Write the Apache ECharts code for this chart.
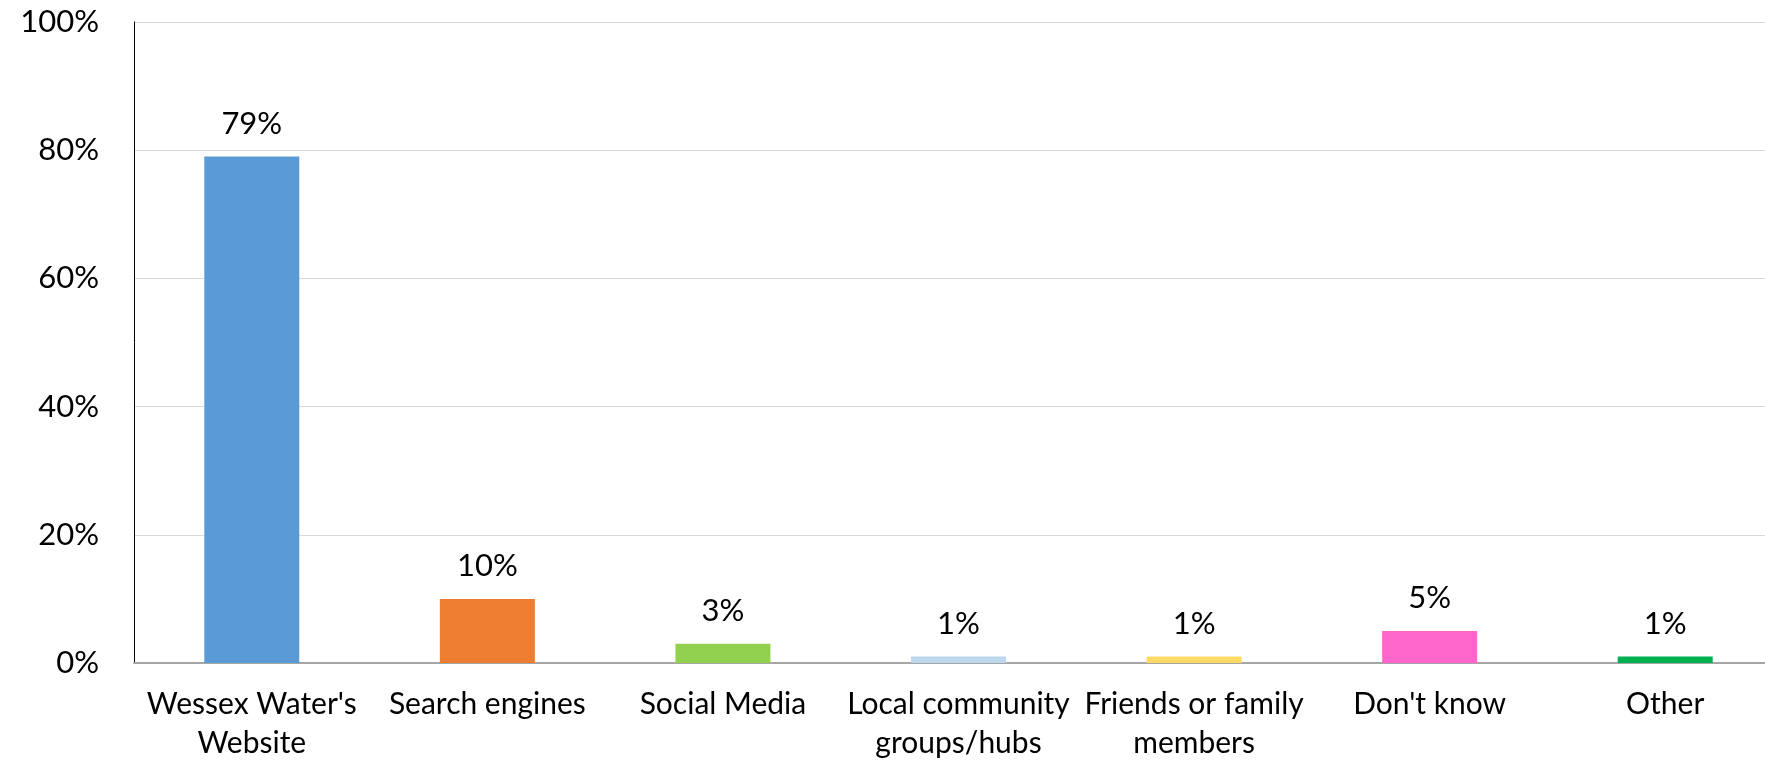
<!DOCTYPE html>
<html><head><meta charset="utf-8">
<script src="https://cdn.jsdelivr.net/npm/echarts@6/dist/echarts.min.js"></script>
<style>html,body{margin:0;padding:0;background:#fff}#c{width:1765px;height:760px}</style>
</head><body><div id="c"></div>
<script>
const categories = ["Wessex Water's\nWebsite", "Search engines", "Social Media", "Local community\ngroups/hubs", "Friends or family\nmembers", "Don't know", "Other"];
const values = [79, 10, 3, 1, 1, 5, 1];
const colors = ["#5B9BD5", "#ED7D31", "#92D050", "#BDD7EE", "#FFD966", "#FF66CC", "#00B050"];
const yTicks = [0, 20, 40, 60, 80, 100];

const FONT = 'Lato';
const chart = echarts.init(document.getElementById('c'), null, {renderer: 'canvas'});
chart.setOption({
  animation: false,
  textStyle: {fontFamily: FONT},
  grid: {left: 134, top: 22, width: 1649, height: 641, containLabel: false, outerBoundsMode: 'none'},
  xAxis: {
    type: 'category', data: categories,
    axisLine: {lineStyle: {color: '#A6A6A6', width: 2}},
    axisTick: {show: false},
    axisLabel: {color: '#000', fontSize: 30, fontFamily: FONT, lineHeight: 39, margin: 22, interval: 0}
  },
  yAxis: {
    type: 'value', min: yTicks[0], max: yTicks[yTicks.length - 1], interval: 20,
    axisLine: {show: true, lineStyle: {color: '#000', width: 1}},
    axisTick: {show: false},
    splitLine: {lineStyle: {color: '#D9D9D9', width: 1}},
    axisLabel: {color: '#000', fontSize: 31, fontFamily: FONT, margin: 35, formatter: '{value}%'}
  },
  series: [{
    type: 'bar', barWidth: 95,
    data: values.map((v, i) => ({value: v, itemStyle: {color: colors[i]}})),
    label: {show: true, position: 'top', distance: 17, color: '#000', fontSize: 31, fontFamily: FONT, formatter: '{c}%'}
  }]
});
</script></body></html>
